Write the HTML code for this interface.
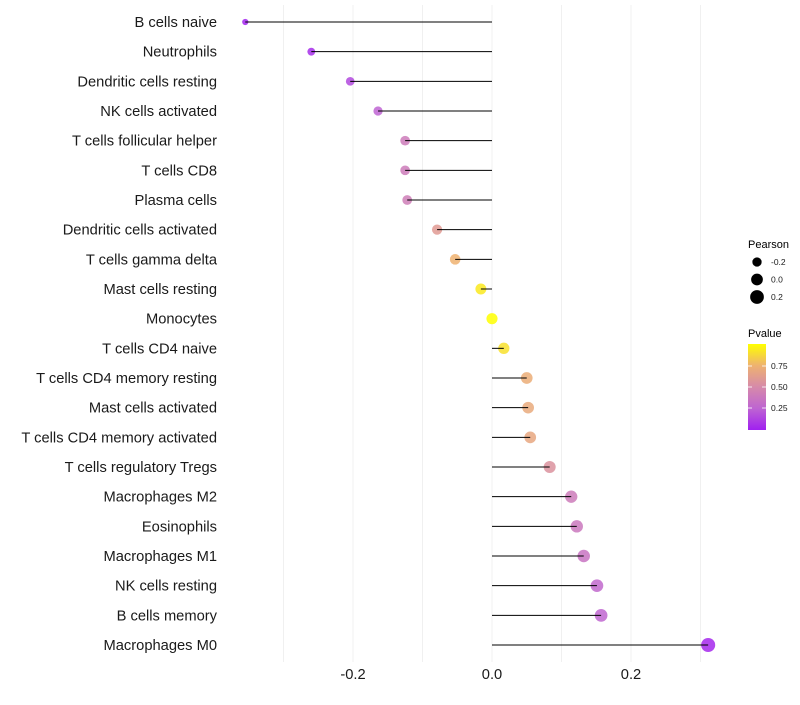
<!DOCTYPE html>
<html><head><meta charset="utf-8"><style>
body{margin:0;background:#fff;font-family:"Liberation Sans",sans-serif}
</style></head><body>
<svg id="c" width="800" height="700" xmlns="http://www.w3.org/2000/svg"></svg>
<script>
const categories=["B cells naive","Neutrophils","Dendritic cells resting","NK cells activated","T cells follicular helper","T cells CD8","Plasma cells","Dendritic cells activated","T cells gamma delta","Mast cells resting","Monocytes","T cells CD4 naive","T cells CD4 memory resting","Mast cells activated","T cells CD4 memory activated","T cells regulatory  Tregs","Macrophages M2","Eosinophils","Macrophages M1","NK cells resting","B cells memory","Macrophages M0"];
const pearson=[-0.355,-0.260,-0.204,-0.164,-0.125,-0.125,-0.122,-0.079,-0.053,-0.016,0,0.017,0.050,0.052,0.055,0.083,0.114,0.122,0.132,0.151,0.157,0.311];
const pvalue=[0.02,0.05,0.15,0.25,0.4,0.4,0.42,0.6,0.75,0.93,1.0,0.9,0.72,0.7,0.68,0.55,0.4,0.38,0.35,0.28,0.26,0.03];
const xTicks=[-0.2,0,0.2];
const xTickLabels=["-0.2","0.0","0.2"];
const sizeLegend=[-0.2,0,0.2];
const pTicks=[0.25,0.5,0.75];

const NS="http://www.w3.org/2000/svg";
const svg=document.getElementById('c');
const X=v=>492+v*695;
const Y=i=>22+i*(623/21);
const R=v=>Math.sqrt(Math.max(3,31+60*v));
const stops=[[0,[160,32,240]],[0.25,[190,100,210]],[0.5,[214,138,170]],[0.75,[238,178,112]],[1,[255,255,0]]];
function col(p){for(let i=1;i<stops.length;i++){if(p<=stops[i][0]){const a=stops[i-1],b=stops[i];const t=(p-a[0])/(b[0]-a[0]);return 'rgb('+a[1].map((c,k)=>Math.round(c+(b[1][k]-c)*t)).join(',')+')';}}return 'rgb(255,255,0)';}
function el(t,a,p){const e=document.createElementNS(NS,t);for(const k in a)e.setAttribute(k,a[k]);(p||svg).appendChild(e);return e;}
for(let g=-0.3;g<=0.31;g+=0.1){const l=el('line',{x1:X(g),x2:X(g),y1:5,y2:662,stroke:'#f0f0f0','stroke-width':1});

}
categories.forEach((c,i)=>{
 const t=el('text',{x:217,y:Y(i)+5,'text-anchor':'end','font-size':14.7,fill:'#1a1a1a'});t.textContent=c;
 
 
 const d=el('circle',{cx:X(pearson[i]),cy:Y(i),r:R(pearson[i]),fill:col(pvalue[i]),'fill-opacity':0.85});
 
 
 const l=el('line',{x1:X(0),x2:X(pearson[i]),y1:Y(i),y2:Y(i),stroke:'#000','stroke-width':1});
 
 
});
xTicks.forEach((v,i)=>{const t=el('text',{x:X(v),y:679,'text-anchor':'middle','font-size':14.7,fill:'#1a1a1a'});t.textContent=xTickLabels[i];

});
const st=el('text',{x:748,y:248,'font-size':11,fill:'#000'});st.textContent='Pearson';


sizeLegend.forEach((v,i)=>{const y=262+i*17.5;
 const c=el('circle',{cx:757,cy:y,r:R(v)+0.3,fill:'#000'});
 
 
 const t=el('text',{x:771,y:y+3,'font-size':8.5,fill:'#1a1a1a'});t.textContent=v===0?'0.0':String(v);
 
 });
const ct=el('text',{x:748,y:337,'font-size':11,fill:'#000'});ct.textContent='Pvalue';


const defs=el('defs',{});const lg=el('linearGradient',{id:'g',x1:0,y1:1,x2:0,y2:0},defs);
stops.forEach(s=>el('stop',{offset:s[0],'stop-color':'rgb('+s[1].join(',')+')'},lg));
const pb=Y=>429-Y*84;
const bar=el('rect',{x:748,y:344,width:18,height:86,fill:'url(#g)'});


pTicks.forEach(p=>{const y=pb(p);
 el('line',{x1:748,x2:752,y1:y,y2:y,stroke:'#fff','stroke-width':0.8});el('line',{x1:762,x2:766,y1:y,y2:y,stroke:'#fff','stroke-width':0.8});
 const t=el('text',{x:771,y:y+3,'font-size':8.5,fill:'#1a1a1a'});t.textContent=p.toFixed(2);
 
 });
</script>
</body></html>
